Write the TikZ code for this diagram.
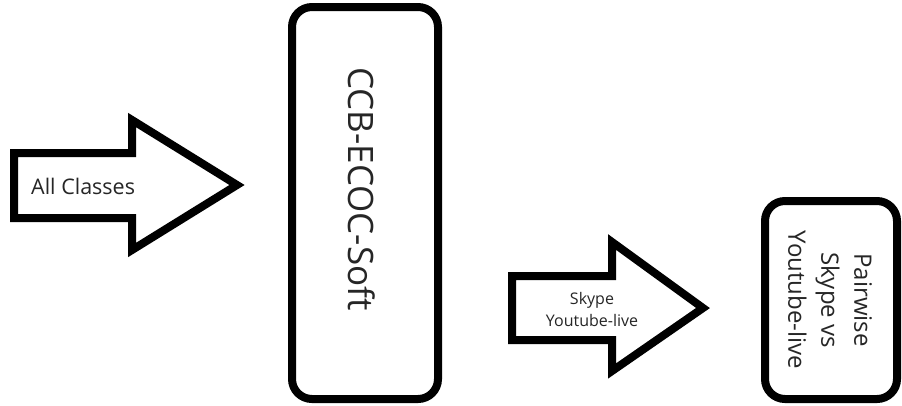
\documentclass[tikz,border=0pt]{standalone}
\usepackage{fontspec}
\setmainfont{Open Sans}
\begin{document}
\begin{tikzpicture}[x=1pt,y=-1pt,
  shape line/.style={draw=black,line width=8pt,line join=miter,fill=white},
  roundbox/.style={draw=black,line width=8pt,fill=white,rounded corners=20pt},
  lbl/.style={inner sep=0pt,align=center,text=black!85}]
\useasboundingbox (0,0) rectangle (902,405);
% arrow 1
\draw[shape line] (14,153) -- (132,153) -- (132,120) -- (237,185) -- (132,250) -- (132,218) -- (14,218) -- cycle;
\node[lbl,font=\fontsize{21.5}{24}\selectfont,anchor=west] (all) at (31,186) {All Classes};
% box 1
\draw[roundbox] (292,7) rectangle (438,399);
\node[lbl,font=\fontsize{35}{40}\selectfont,rotate=-90] (ccb) at (362,189) {CCB-ECOC-Soft};
% arrow 2
\draw[shape line] (512,276) -- (612,276) -- (612,242) -- (703,308) -- (612,371) -- (612,340) -- (512,340) -- cycle;
\node[lbl,font=\fontsize{16}{22}\selectfont] (sky) at (592,309) {Skype\\Youtube-live};
% box 2
\draw[roundbox] (765,201) rectangle (897,399);
\node[lbl,font=\fontsize{24}{33}\selectfont,rotate=-90] (pw) at (830,300) {Pairwise\\Skype vs\\Youtube-live};
\end{tikzpicture}
\end{document}
